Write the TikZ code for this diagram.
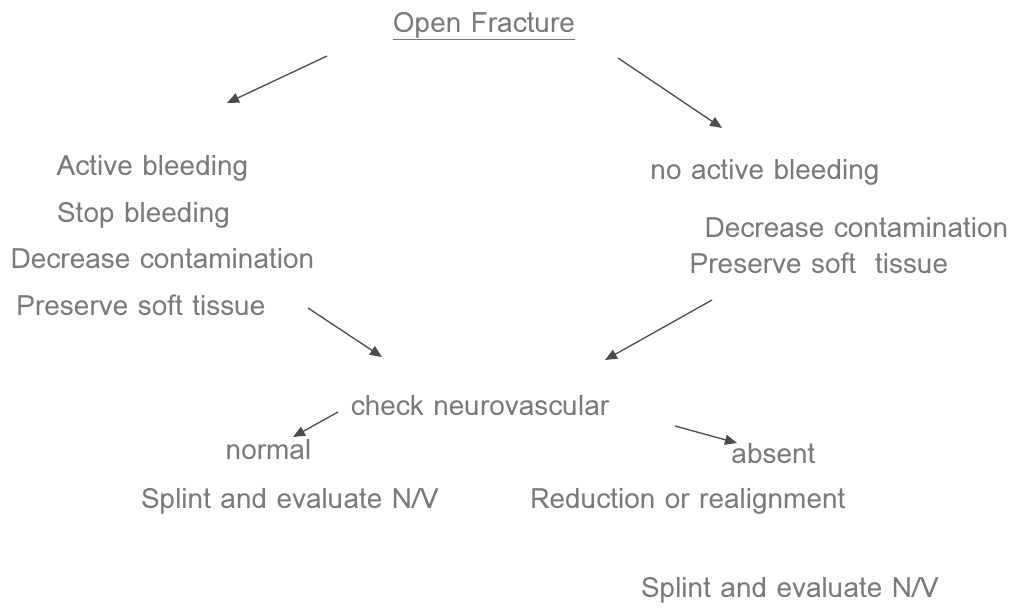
\documentclass[tikz,border=0pt]{standalone}
\usepackage{fontspec}
\setmainfont{Loma}
\usetikzlibrary{arrows.meta}
\begin{document}
\begin{tikzpicture}[x=1pt,y=-1pt,
  lbl/.style={inner sep=0pt,text=black!52,font=\fontsize{28}{32}\selectfont},
  arr/.style={draw=black!70,line width=1.3pt,-{Triangle[length=12pt,width=10pt]}}]
\useasboundingbox[fill=white] (0,0) rectangle (1020,611);
% texts
\node[lbl,anchor=base] (top) at (484,32) {\underline{Open Fracture}};
\node[lbl,anchor=base] (a1) at (152.5,175) {Active bleeding};
\node[lbl,anchor=base] (a2) at (143.5,222) {Stop bleeding};
\node[lbl,anchor=base] (a3) at (162.5,268) {Decrease contamination};
\node[lbl,anchor=base] (a4) at (141,315) {Preserve soft tissue};
\node[lbl,anchor=base] (b1) at (765,179) {no active bleeding};
\node[lbl,anchor=base] (b2) at (856.5,237) {Decrease contamination};
\node[lbl,anchor=base] (b3) at (819,273) {Preserve soft\ \ tissue};
\node[lbl,anchor=base] (chk) at (480,415) {check neurovascular};
\node[lbl,anchor=base] (nor) at (268.5,459) {normal};
\node[lbl,anchor=base] (abs) at (773.5,463) {absent};
\node[lbl,anchor=base] (s1) at (290,508) {Splint and evaluate N/V};
\node[lbl,anchor=base] (red) at (688,508) {Reduction or realignment};
\node[lbl,anchor=base] (s2) at (790,597) {Splint and evaluate N/V};
% arrow end points
\coordinate (p1s) at (327,56);  \coordinate (p1e) at (227,103);
\coordinate (p2s) at (618,58);  \coordinate (p2e) at (722,128);
\coordinate (p3s) at (308,308); \coordinate (p3e) at (382,357);
\coordinate (p4s) at (712,300); \coordinate (p4e) at (605,360);
\coordinate (p5s) at (338,412); \coordinate (p5e) at (293,437);
\coordinate (p6s) at (675,426); \coordinate (p6e) at (737,443);
\draw[arr] (p1s) -- (p1e);
\draw[arr] (p2s) -- (p2e);
\draw[arr] (p3s) -- (p3e);
\draw[arr] (p4s) -- (p4e);
\draw[arr] (p5s) -- (p5e);
\draw[arr] (p6s) -- (p6e);
\end{tikzpicture}
\end{document}
